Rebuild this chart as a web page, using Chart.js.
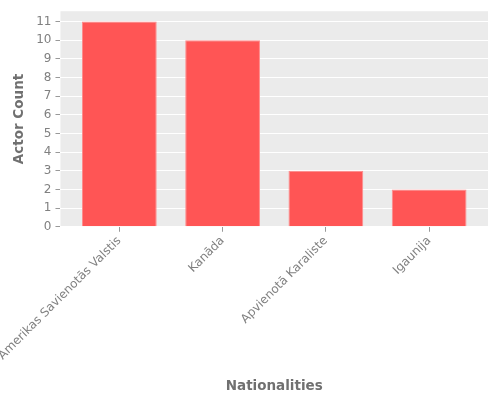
<!DOCTYPE html>
<html>
<head>
<meta charset="utf-8">
<script src="https://cdn.jsdelivr.net/npm/chart.js@4"></script>
<style>
  html, body { margin: 0; padding: 0; background: #fff; }
  #wrap { width: 500px; height: 400px; }
</style>
</head>
<body>
<div id="wrap"><canvas id="chart" width="500" height="400"></canvas></div>
<script>
const nationalities = ['Amerikas Savienotās Valstis', 'Kanāda', 'Apvienotā Karaliste', 'Igaunija'];
const actorCounts = [11, 10, 3, 2];
const yTickValues = [0, 1, 2, 3, 4, 5, 6, 7, 8, 9, 10, 11];

// grey panel behind the plot, ggplot style
const panelBg = {
    id: 'panelBg',
    beforeDraw(chart) {
        const { ctx, chartArea: a } = chart;
        ctx.save();
        ctx.fillStyle = '#EBEBEB';
        ctx.fillRect(a.left, a.top, a.right - a.left, a.bottom - a.top);
        ctx.restore();
    }
};

const points = actorCounts.map((v, i) => ({ x: i, y: v }));

const ctx = document.getElementById('chart').getContext('2d');
new Chart(ctx, {
    type: 'bar',
    data: {
        datasets: [{
            label: 'Actor Count',
            data: points,
            backgroundColor: '#FF5555',
            borderColor: 'rgba(255, 140, 140, 1)',
            borderWidth: 1,
            barPercentage: 0.724,
            categoryPercentage: 1.0,
        }],
    },
    options: {
        responsive: false,
        animation: false,
        layout: { padding: { top: 10, right: 12, left: 11, bottom: 5 } },
        plugins: { legend: { display: false }, tooltip: { enabled: false } },
        scales: {
            x: {
                type: 'linear',
                offset: false,
                min: -0.57, max: nationalities.length - 1 + 0.57,
                afterBuildTicks(axis) { axis.ticks = nationalities.map((_, i) => ({ value: i })); },
                // long first label may run off the left edge, like the original
                afterFit(axis) { axis.paddingLeft = 0; axis.paddingRight = 0; },
                border: { display: false },
                grid: { drawOnChartArea: false, offset: false, tickColor: '#999', tickLength: 5 },
                ticks: {
                    color: '#808080',
                    font: { family: 'DejaVu Sans', size: 12 },
                    maxRotation: 45, minRotation: 45, padding: 2,
                    callback: (v) => nationalities[v],
                },
                title: {
                    display: true, text: 'Nationalities', color: '#707070',
                    font: { family: 'DejaVu Sans', size: 13.5, weight: 'bold' },
                    padding: { top: 14, bottom: 0 },
                },
            },
            y: {
                min: 0, max: 11.55,
                border: { display: false },
                afterBuildTicks(axis) { axis.ticks = yTickValues.map(v => ({ value: v })); },
                grid: { color: '#FFFFFF', lineWidth: 1, tickColor: '#999', tickLength: 5 },
                ticks: {
                    color: '#808080',
                    font: { family: 'DejaVu Sans', size: 12 },
                    padding: 4,
                },
                title: {
                    display: true, text: 'Actor Count', color: '#707070',
                    font: { family: 'DejaVu Sans', size: 13.5, weight: 'bold' },
                    padding: { top: 0, bottom: 5 },
                },
            },
        },
    },
    plugins: [panelBg],
});
</script>
</body>
</html>
